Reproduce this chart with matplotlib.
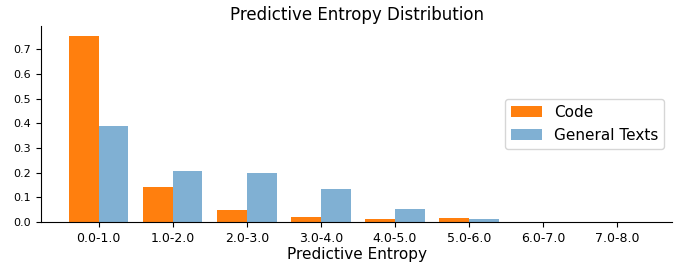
import numpy as np
import matplotlib
matplotlib.use('Agg')
import matplotlib.pyplot as plt

# entropy bins and share of tokens per bin
bins = ['0.0-1.0', '1.0-2.0', '2.0-3.0', '3.0-4.0', '4.0-5.0', '5.0-6.0', '6.0-7.0', '7.0-8.0']
code_vals = [0.754, 0.141, 0.047, 0.019, 0.011, 0.015, 0.001, 0.001]
text_vals = [0.389, 0.206, 0.198, 0.133, 0.052, 0.014, 0.001, 0.001]

x = np.arange(len(bins))
w = 0.4

fig = plt.figure(figsize=(6.83, 2.63), dpi=100)
ax = fig.add_axes([0.06, 0.156, 0.924, 0.745])

ax.bar(x - w / 2, code_vals, w, color='#ff7f0e', label='Code')
ax.bar(x + w / 2, text_vals, w, color='#80b0d3', label='General Texts')

ax.set_xticks(x)
ax.set_xticklabels(bins, fontsize=9)
ax.tick_params(axis='y', labelsize=8)
ax.set_yticks(np.arange(0, 0.71, 0.1))
ax.set_ylim(0, 0.795)
ax.set_xlim(-0.78, 7.74)
ax.set_xlabel('Predictive Entropy', fontsize=11, labelpad=2)
ax.set_title('Predictive Entropy Distribution', fontsize=12, pad=4)
ax.spines['top'].set_visible(False)
ax.spines['right'].set_visible(False)
ax.legend(loc='center right', fontsize=11)

fig.savefig('out.png')
